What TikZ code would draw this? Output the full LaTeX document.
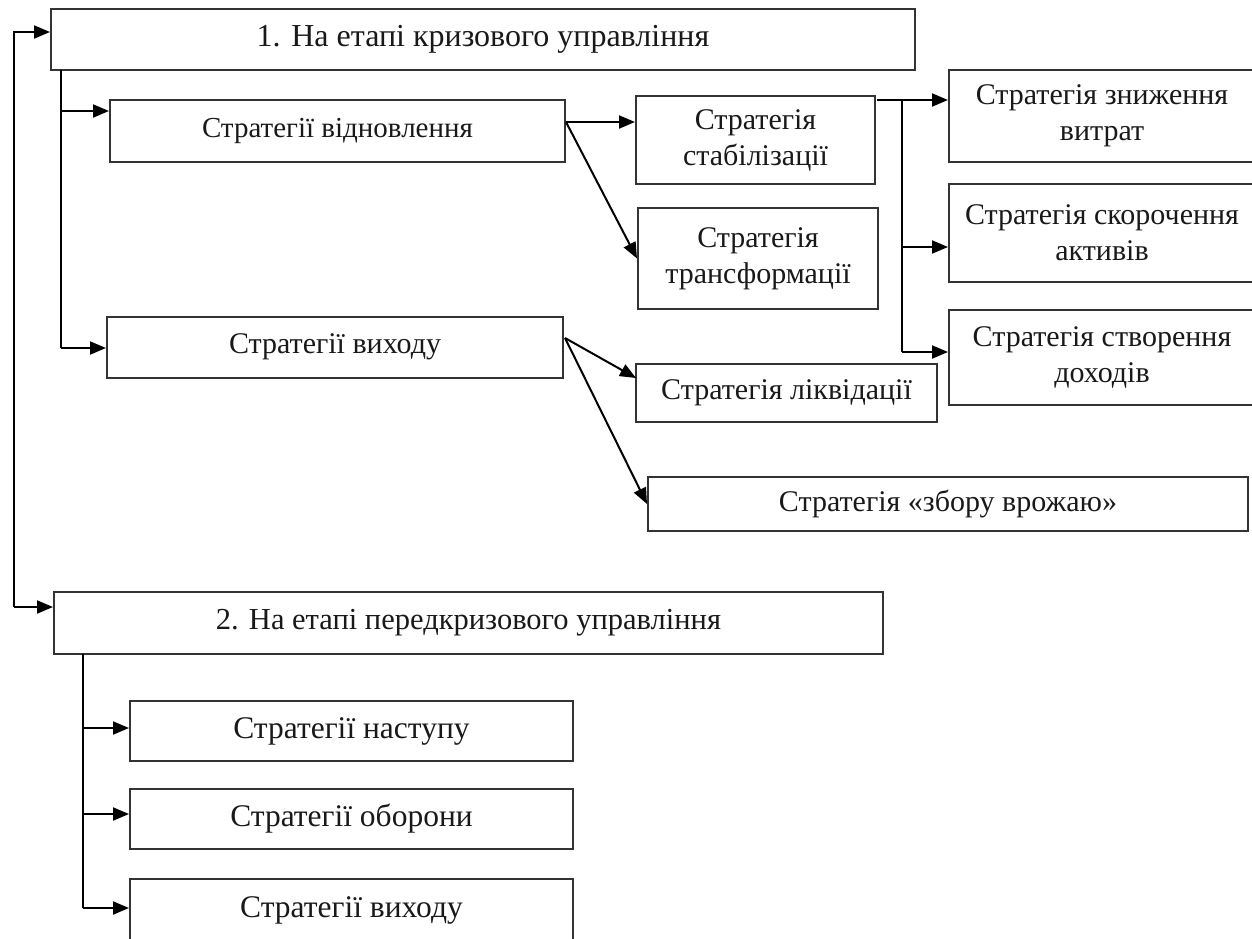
\documentclass[tikz,border=0pt]{standalone}
\usepackage{fontspec}
\setmainfont{Liberation Serif}
\usetikzlibrary{arrows.meta}
\begin{document}
\begin{tikzpicture}[x=1pt,y=-1pt,
  box/.style={draw=black!80, line width=2pt, inner sep=0pt, align=center,
    font=\fontsize{30}{36}\selectfont, text=black!90},
  head/.style={box, font=\fontsize{32}{38}\selectfont},
  big/.style={box, font=\fontsize{31.5}{38}\selectfont},
  arr/.style={line width=2pt, -{Triangle[length=16pt,width=13pt]}},
  ln/.style={line width=2pt}]
\useasboundingbox (0,0) rectangle (1252,938);
% headers
\node[head, minimum width=864, minimum height=61] (b1) at (483,39.5) {1. На етапі кризового управління};
\node[head, font=\fontsize{30.5}{36}\selectfont, minimum width=829, minimum height=62] (b2) at (468.5,623) {2. На етапі передкризового управління};
% level 2
\node[box, font=\fontsize{29}{35}\selectfont, minimum width=455, minimum height=62] (rec) at (337.5,131) {Стратегії відновлення};
\node[box, minimum width=456, minimum height=61] (ext) at (335,347) {Стратегії виходу};
% level 3
\node[box, minimum width=239, minimum height=88] (stab) at (755.5,140) {Стратегія\\стабілізації};
\node[box, minimum width=240, minimum height=101] (trans) at (758,258.5) {Стратегія\\трансформації};
\node[box, minimum width=301, minimum height=58] (liq) at (786.5,393) {Стратегія ліквідації};
\node[box, minimum width=600, minimum height=54] (harv) at (948,504) {Стратегія «збору врожаю»};
% level 4
\node[box, minimum width=306, minimum height=92] (cost) at (1102,116) {Стратегія зниження\\витрат};
\node[box, minimum width=306, minimum height=98] (asset) at (1102,233) {Стратегія скорочення\\активів};
\node[box, minimum width=306, minimum height=95] (income) at (1102,357.5) {Стратегія створення\\доходів};
% pre-crisis
\node[big, minimum width=443, minimum height=60] (off) at (351.5,731) {Стратегії наступу};
\node[big, minimum width=443, minimum height=60] (def) at (351.5,819) {Стратегії оборони};
\node[big, minimum width=443, minimum height=62] (exit2) at (351.5,910) {Стратегії виходу};
% outer loop
\coordinate (L1) at (14,32);
\coordinate (L2) at (14,607);
\draw[arr] (L2) -- (L1) -- (L1 -| b1.west);
\draw[arr] (L2) -- (L2 -| b2.west);
% inner line 1
\coordinate (A0) at (61,70);
\coordinate (A1) at (61,111);
\coordinate (A2) at (61,348);
\draw[ln] (A0) -- (A2);
\draw[arr] (A1) -- (A1 -| rec.west);
\draw[arr] (A2) -- (A2 -| ext.west);
% recovery fan
\coordinate (R0) at (566,122);
\draw[arr] (R0) -- (R0 -| stab.west);
\draw[arr] (R0) -- (trans.west);
% exit fan
\coordinate (E0) at (565,338);
\draw[arr] (E0) -- (636,378);
\draw[arr] (E0) -- (harv.west);
% right branch
\coordinate (S0) at (877,100);
\coordinate (S1) at (902,100);
\coordinate (S2) at (902,247);
\coordinate (S3) at (902,352);
\draw[arr] (S0) -- (S0 -| cost.west);
\draw[ln] (S1) -- (S3);
\draw[arr] (S2) -- (S2 -| asset.west);
\draw[arr] (S3) -- (S3 -| income.west);
% inner line 2
\coordinate (B0) at (83,654);
\coordinate (B1) at (83,728);
\coordinate (B2) at (83,814);
\coordinate (B3) at (83,908);
\draw[ln] (B0) -- (B3);
\draw[arr] (B1) -- (B1 -| off.west);
\draw[arr] (B2) -- (B2 -| def.west);
\draw[arr] (B3) -- (B3 -| exit2.west);
\end{tikzpicture}
\end{document}
